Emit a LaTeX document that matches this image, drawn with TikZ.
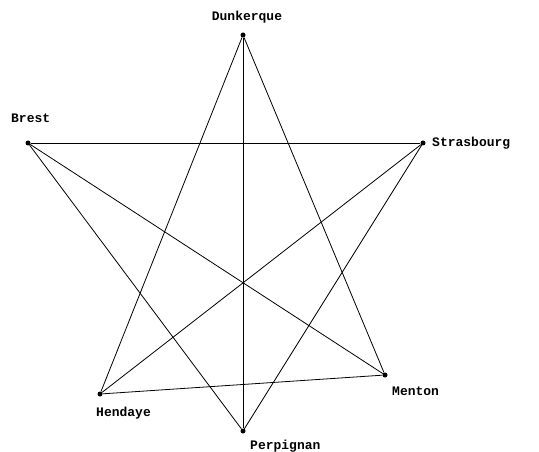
\documentclass[tikz,border=0pt]{standalone}
\usepackage{fontspec}
\setmonofont{Liberation Mono}
\begin{document}
\begin{tikzpicture}[x=1pt,y=-1pt,
  city/.style={circle,fill=black,inner sep=0pt,minimum size=5pt},
  lbl/.style={font=\fontsize{13}{13}\selectfont\ttfamily\bfseries,inner sep=0pt},
  edge/.style={draw=black,line width=0.8pt}]
\useasboundingbox (0,0) rectangle (539,452);
\node[city] (D) at (243,35) {};
\node[city] (B) at (28,143) {};
\node[city] (S) at (423,143) {};
\node[city] (H) at (100,394) {};
\node[city] (M) at (385,375) {};
\node[city] (P) at (243,431) {};
\node[lbl,anchor=center] (lD) at (247,17) {Dunkerque};
\node[lbl,anchor=west] (lB) at (11,118) {Brest};
\node[lbl,anchor=west] (lS) at (432,143) {Strasbourg};
\node[lbl,anchor=west] (lH) at (96,413) {Hendaye};
\node[lbl,anchor=west] (lM) at (392,391) {Menton};
\node[lbl,anchor=west] (lP) at (250,446) {Perpignan};
\draw[edge] (D) -- (P);
\draw[edge] (D) -- (H);
\draw[edge] (D) -- (M);
\draw[edge] (B) -- (S);
\draw[edge] (B) -- (M);
\draw[edge] (B) -- (P);
\draw[edge] (S) -- (H);
\draw[edge] (S) -- (P);
\draw[edge] (H) -- (M);
\end{tikzpicture}
\end{document}
